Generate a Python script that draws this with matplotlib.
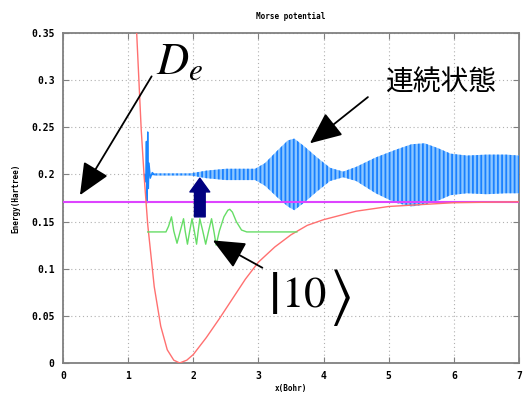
import matplotlib
matplotlib.use('Agg')
import matplotlib.pyplot as plt

plt.rcParams['mathtext.fontset'] = 'stix'
plt.rcParams['hatch.linewidth'] = 1.3

# Morse potential curve
morse_x = [1.10, 1.20, 1.244, 1.30, 1.40, 1.50, 1.60, 1.70, 1.79, 1.90, 2.00, 2.20,
           2.40, 2.60, 2.80, 3.00, 3.25, 3.50, 3.75, 4.00, 4.50, 5.00, 5.50, 6.00, 6.50, 7.00]
morse_y = [0.395, 0.248, 0.199, 0.147, 0.081, 0.039, 0.014, 0.003, 0.000, 0.003, 0.009, 0.027,
           0.047, 0.068, 0.089, 0.107, 0.123, 0.136, 0.146, 0.152, 0.161, 0.166, 0.168, 0.170, 0.1705, 0.171]

dissociation = 0.171

# |10> vibrational wavefunction (offset to its level)
psi_x = [1.30, 1.58, 1.62, 1.665, 1.70, 1.75, 1.80, 1.85, 1.875, 1.91, 1.945, 1.98,
         2.015, 2.05, 2.075, 2.10, 2.145, 2.19, 2.235, 2.28, 2.32, 2.35, 2.40, 2.47,
         2.53, 2.56, 2.60, 2.66, 2.74, 2.82, 3.59]
psi_y = [0.139, 0.139, 0.145, 0.155, 0.140, 0.127, 0.140, 0.153, 0.140, 0.126, 0.140, 0.153,
         0.140, 0.126, 0.140, 0.153, 0.140, 0.126, 0.140, 0.153, 0.138, 0.125, 0.140, 0.155,
         0.162, 0.163, 0.160, 0.150, 0.141, 0.139, 0.139]

# continuum wave packet envelope
band_x = [1.40, 1.95, 2.20, 2.50, 2.80, 2.95, 3.10, 3.30, 3.45, 3.55, 3.70, 3.90, 4.10,
          4.30, 4.50, 4.80, 5.10, 5.35, 5.55, 5.75, 5.95, 6.20, 6.50, 6.80, 7.00]
band_hi = [0.201, 0.201, 0.204, 0.206, 0.206, 0.206, 0.212, 0.226, 0.236, 0.238, 0.230, 0.218, 0.207,
           0.203, 0.208, 0.218, 0.226, 0.232, 0.233, 0.228, 0.222, 0.220, 0.221, 0.221, 0.220]
band_lo = [0.199, 0.199, 0.196, 0.194, 0.194, 0.194, 0.188, 0.175, 0.166, 0.162, 0.170, 0.182, 0.193,
           0.197, 0.193, 0.180, 0.170, 0.166, 0.168, 0.172, 0.178, 0.180, 0.179, 0.180, 0.180]

# spike at the repulsive wall
spike_x = [1.25, 1.27, 1.28, 1.29, 1.30, 1.31, 1.32, 1.34, 1.37, 1.40]
spike_y = [0.200, 0.192, 0.235, 0.170, 0.245, 0.185, 0.212, 0.196, 0.202, 0.200]

xticks = [0, 1, 2, 3, 4, 5, 6, 7]
yticks = [0, 0.05, 0.1, 0.15, 0.2, 0.25, 0.3, 0.35]
ytick_labels = ['0', '0.05', '0.1', '0.15', '0.2', '0.25', '0.3', '0.35']

fig = plt.figure(figsize=(5.26, 3.94), dpi=100)
ax = fig.add_axes([0.1198, 0.0787, 0.867, 0.8376])

ax.set_xlim(0, 7)
ax.set_ylim(0, 0.35)

ax.plot([1.35, 7.0], [0.2, 0.2], color='#1a85ff', lw=1.0, zorder=3)
ax.fill_between(band_x, band_lo, band_hi, facecolor='#8cc6ff', edgecolor='#1a80ff',
                hatch='||||', linewidth=0, zorder=3)
ax.plot(spike_x, spike_y, color='#1a85ff', lw=1.0, zorder=3)

ax.axhline(dissociation, color='#dd44ff', lw=1.5, zorder=4)
ax.plot(morse_x, morse_y, color='#ff7070', lw=1.0, zorder=5)
ax.plot(psi_x, psi_y, color='#66dd66', lw=1.0, zorder=5)

# excitation arrow
ax.annotate('', xy=(2.10, 0.196), xytext=(2.10, 0.155),
            arrowprops=dict(arrowstyle='simple,head_length=0.9,head_width=1.3,tail_width=0.7',
                            color='#000080', mutation_scale=11, shrinkA=0, shrinkB=0), zorder=6)

# annotations
arrow = dict(arrowstyle='-|>,head_length=0.9,head_width=0.4', color='black', lw=1.3,
             mutation_scale=22, shrinkA=0, shrinkB=0)
ax.annotate('', xy=(0.26, 0.178), xytext=(1.36, 0.304), arrowprops=arrow, zorder=7)
ax.text(1.43, 0.307, r'$D_e$', fontsize=32, ha='left', va='baseline', zorder=7)

ax.annotate('', xy=(3.79, 0.233), xytext=(4.68, 0.282), arrowprops=arrow, zorder=7)
ax.text(5.81, 0.297, '連続状態', fontsize=20, family=['Noto Sans CJK JP', 'DejaVu Sans'],
        ha='center', va='center', zorder=7)

ax.annotate('', xy=(2.30, 0.130), xytext=(3.06, 0.101), arrowprops=arrow, zorder=7)
ax.text(3.22, 0.069, r'$|$', fontsize=44, ha='center', va='center', zorder=7)
ax.text(3.70, 0.073, r'$10$', fontsize=32, ha='center', va='center', zorder=7)
ax.text(4.25, 0.069, r'$\rangle$', fontsize=44, ha='center', va='center', zorder=7)

ax.set_xticks(xticks)
ax.set_yticks(yticks)
ax.set_yticklabels(ytick_labels)
for lab in ax.get_xticklabels() + ax.get_yticklabels():
    lab.set_family('DejaVu Sans Mono')
    lab.set_fontweight('bold')
    lab.set_fontsize(7)
ax.tick_params(direction='in', top=True, right=True, length=4, color='#808080', pad=6)
ax.grid(True, color='#b0b0b0', linestyle=(0, (1, 2.5)), lw=0.8)
for s in ax.spines.values():
    s.set_color('#808080')
    s.set_linewidth(1.3)

ax.set_title('Morse potential', family='DejaVu Sans Mono', fontweight='bold', fontsize=5.5, pad=10)
ax.set_xlabel('x(Bohr)', family='DejaVu Sans Mono', fontweight='bold', fontsize=5.5, labelpad=2)
ax.set_ylabel('Energy(Hartree)', family='DejaVu Sans Mono', fontweight='bold', fontsize=5.5, labelpad=8)

fig.savefig('out.png', dpi=100)
